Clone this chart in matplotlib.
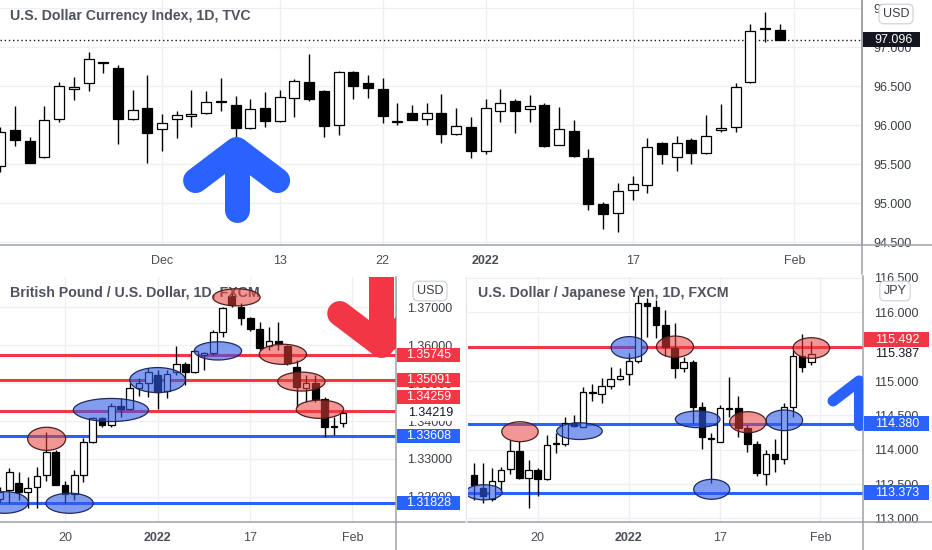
import matplotlib

matplotlib.use("Agg")
import matplotlib.pyplot as plt
from matplotlib.colors import to_rgba
from matplotlib.lines import Line2D
from matplotlib.patches import Ellipse, Rectangle
from matplotlib.transforms import blended_transform_factory

plt.rcParams["font.family"] = ["Liberation Sans", "DejaVu Sans"]

# ---------------- U.S. Dollar Currency Index, 1D (bar 0 = Dec 1) ----------------
dxy_start = -11
dxy_open = [95.474, 95.936, 95.795, 95.585, 96.073, 96.457, 96.534, 96.808, 96.726, 96.077,
            96.222, 95.944, 96.077, 96.120, 96.150, 96.298, 96.252, 95.957, 96.214, 96.047,
            96.350, 96.551, 96.440, 96.004, 96.675, 96.534, 96.466, 96.034, 96.150, 96.073,
            96.150, 95.885, 95.979, 95.667, 96.184, 96.308, 96.201, 96.256, 95.744, 95.927,
            95.573, 94.987, 94.868, 95.167, 95.226, 95.765, 95.585, 95.808, 95.637, 95.936,
            95.970, 96.547, 97.244, 97.218]
dxy_high = [95.980, 96.244, 95.846, 96.244, 96.547, 96.611, 96.940, 96.810, 96.769, 96.449,
            96.641, 96.137, 96.179, 96.449, 96.436, 96.598, 96.376, 96.333, 96.427, 96.449,
            96.585, 96.910, 96.449, 96.692, 96.692, 96.637, 96.598, 96.278, 96.256, 96.278,
            96.393, 96.222, 96.107, 96.329, 96.457, 96.329, 96.385, 96.286, 96.226, 96.064,
            95.688, 95.017, 95.261, 95.346, 95.829, 95.786, 95.859, 95.838, 96.128, 96.269,
            96.543, 97.291, 97.444, 97.295]
dxy_low = [95.400, 95.731, 95.510, 95.580, 96.043, 96.321, 96.440, 96.662, 95.752, 96.070,
           95.517, 95.671, 95.838, 95.970, 96.137, 96.179, 95.850, 95.955, 95.979, 96.045,
           96.098, 96.303, 95.850, 95.876, 96.338, 96.350, 96.030, 96.000, 96.060, 96.004,
           95.773, 95.870, 95.573, 95.628, 96.043, 95.893, 96.043, 95.722, 95.740, 95.594,
           94.910, 94.662, 94.632, 95.038, 95.132, 95.500, 95.415, 95.500, 95.635, 95.906,
           95.915, 96.545, 97.068, 97.096]
dxy_close = [95.915, 95.808, 95.517, 96.064, 96.500, 96.483, 96.842, 96.795, 96.073, 96.192,
             95.893, 96.030, 96.132, 96.145, 96.290, 96.305, 95.957, 96.201, 96.047, 96.363,
             96.564, 96.329, 95.991, 96.675, 96.504, 96.479, 96.120, 96.056, 96.064, 96.150,
             95.885, 95.991, 95.671, 96.222, 96.278, 96.184, 96.244, 95.735, 95.944, 95.603,
             94.987, 94.859, 95.158, 95.244, 95.722, 95.624, 95.765, 95.637, 95.863, 95.962,
             96.483, 97.205, 97.226, 97.096]
dxy_last = 97.096
dxy_ticks = [0, 8, 15, 22, 32, 43]
dxy_tick_labels = ["Dec", "13", "22", "2022", "17", "Feb"]
dxy_levels = [94.5, 95.0, 95.5, 96.0, 96.5, 97.0, 97.5]

# ---------------- British Pound / U.S. Dollar, 1D (bar 0 = Dec 20) ----------------
gbp_start = -7
gbp_open = [1.31950, 1.32180, 1.32374, 1.32119, 1.32251, 1.32576, 1.33192, 1.32312, 1.32075,
            1.32576, 1.33456, 1.34071, 1.33895, 1.34397, 1.34309, 1.34863, 1.34995, 1.35215,
            1.34801, 1.35303, 1.35505, 1.35303, 1.35742, 1.35786, 1.36358, 1.37299, 1.37018,
            1.36710, 1.36420, 1.35989, 1.36112, 1.35980, 1.35417, 1.34863, 1.34995, 1.34581,
            1.33878, 1.33939]
gbp_high = [1.32250, 1.32752, 1.32664, 1.32532, 1.32796, 1.33719, 1.33236, 1.32427, 1.32708,
            1.33544, 1.34115, 1.34115, 1.34467, 1.34599, 1.34995, 1.35127, 1.35390, 1.35347,
            1.35347, 1.35980, 1.35566, 1.35874, 1.35830, 1.36402, 1.37018, 1.37413, 1.37106,
            1.36754, 1.36622, 1.36472, 1.36622, 1.36006, 1.35610, 1.35215, 1.35215, 1.34643,
            1.34115, 1.34247]
gbp_low = [1.31850, 1.31829, 1.31916, 1.31697, 1.31697, 1.32427, 1.32310, 1.31829, 1.31916,
           1.32400, 1.33412, 1.33851, 1.33851, 1.34115, 1.34291, 1.34661, 1.34643, 1.34309,
           1.34599, 1.35215, 1.34951, 1.35259, 1.35347, 1.35742, 1.36226, 1.37018, 1.36534,
           1.36376, 1.35874, 1.35874, 1.35874, 1.35478, 1.34379, 1.34511, 1.34511, 1.33588,
           1.33631, 1.33851]
gbp_close = [1.32120, 1.32664, 1.32136, 1.32224, 1.32550, 1.33192, 1.32312, 1.32075, 1.32576,
             1.33456, 1.34071, 1.33895, 1.34397, 1.34309, 1.34863, 1.34995, 1.35303, 1.34775,
             1.35241, 1.35505, 1.35303, 1.35848, 1.35804, 1.36358, 1.36974, 1.37062, 1.36710,
             1.36420, 1.35918, 1.36112, 1.36033, 1.35522, 1.34889, 1.34995, 1.34581, 1.33834,
             1.33851, 1.34219]
gbp_last = 1.34219
gbp_red_levels = [1.35745, 1.35091, 1.34259]
gbp_blue_levels = [1.33608, 1.31828]
gbp_ticks = [0, 10, 20, 31]
gbp_tick_labels = ["20", "2022", "17", "Feb"]
gbp_levels = [1.32, 1.33, 1.34, 1.35, 1.36, 1.37]
# zones: (bar, price, width in bars, height in price)
gbp_blue_zones = [(-6.5, 1.3185, 5.1, 0.0057), (0.5, 1.3183, 5.1, 0.0053),
                  (4.96, 1.3429, 8.1, 0.0061), (9.99, 1.3508, 6.0, 0.0066),
                  (16.5, 1.3585, 5.1, 0.0048)]
gbp_red_zones = [(-1.97, 1.3353, 4.1, 0.0061), (18.5, 1.37264, 5.1, 0.0045),
                 (23.5, 1.3576, 5.1, 0.0053), (25.5, 1.3504, 5.1, 0.0050),
                 (27.5, 1.3431, 5.1, 0.0048)]

# ---------------- U.S. Dollar / Japanese Yen, 1D (bar 0 = Dec 20) ----------------
jpy_start = -7
jpy_open = [113.632, 113.448, 113.278, 113.545, 113.715, 113.986, 113.584, 113.705, 113.569,
            114.079, 114.083, 114.384, 114.336, 114.845, 114.811, 114.933, 115.025, 115.098,
            115.296, 116.131, 116.073, 115.816, 115.476, 115.185, 115.282, 114.627, 114.176,
            114.117, 114.598, 114.603, 114.311, 114.083, 113.647, 113.933, 113.860, 114.627,
            115.364, 115.282]
jpy_high = [113.812, 113.802, 113.729, 113.754, 114.142, 114.132, 113.851, 113.729, 114.214,
            114.239, 114.481, 114.506, 114.918, 114.952, 115.039, 115.209, 115.185, 115.403,
            116.252, 116.204, 116.180, 116.034, 115.840, 115.355, 115.306, 114.700, 114.248,
            114.651, 115.054, 114.782, 114.360, 114.132, 113.996, 114.151, 114.685, 115.452,
            115.685, 115.588]
jpy_low = [113.268, 113.229, 113.259, 113.414, 113.647, 113.569, 113.147, 113.331, 113.559,
           113.957, 114.059, 114.336, 114.335, 114.714, 114.675, 114.879, 115.015, 114.942,
           115.258, 115.646, 115.622, 115.364, 115.039, 115.136, 114.384, 114.006, 113.511,
           114.115, 114.481, 114.190, 113.972, 113.623, 113.487, 113.681, 113.792, 114.481,
           115.127, 115.233]
jpy_close = [113.487, 113.327, 113.545, 113.705, 113.986, 113.584, 113.705, 113.574, 114.069,
             114.093, 114.384, 114.345, 114.845, 114.821, 114.928, 115.025, 115.078, 115.296,
             116.131, 116.092, 115.816, 115.500, 115.185, 115.282, 114.627, 114.190, 114.156,
             114.603, 114.612, 114.311, 114.083, 113.657, 113.933, 113.860, 114.627, 115.364,
             115.199, 115.387]
jpy_last = 115.387
jpy_red_levels = [115.492]
jpy_blue_levels = [114.380, 113.373]
jpy_ticks = [0, 10, 20, 31]
jpy_tick_labels = ["20", "2022", "17", "Feb"]
jpy_levels = [113.0, 113.5, 114.0, 114.5, 115.0, 115.5, 116.0, 116.5]
jpy_blue_zones = [(-5.9, 113.38, 4.0, 0.22), (4.58, 114.27, 5.0, 0.243),
                  (10.04, 115.488, 4.0, 0.316), (17.54, 114.443, 4.9, 0.243),
                  (19.08, 113.424, 3.95, 0.29), (27.04, 114.428, 4.0, 0.30)]
jpy_red_zones = [(-1.94, 114.262, 4.0, 0.29), (15.05, 115.499, 4.06, 0.31),
                 (23.04, 114.40, 4.0, 0.306), (30.0, 115.48, 4.0, 0.30)]

RED = "#f23645"
BLUE = "#2962ff"
AXIS = "#9da0a8"
GRID = "#eceff4"
TXT = "#4a4d56"

W, H = 932, 550
fig = plt.figure(figsize=(W / 100, H / 100), dpi=100)


def px_rect(x0, y0, x1, y1):
    return [x0 / W, 1 - y1 / H, (x1 - x0) / W, (y1 - y0) / H]


def fig_line(x0, y0, x1, y1, **kw):
    fig.add_artist(Line2D([x0 / W, x1 / W], [1 - y0 / H, 1 - y1 / H],
                          transform=fig.transFigure, **kw))


def setup(ax, xlim, ylim, yticks, fmt, xticks, xlabels):
    ax.set_xlim(xlim)
    ax.set_ylim(ylim)
    ax.yaxis.tick_right()
    ax.set_yticks(yticks)
    ax.set_yticklabels([fmt % v for v in yticks])
    ax.set_xticks(xticks)
    ax.set_xticklabels(xlabels)
    for lab in ax.get_xticklabels():
        if lab.get_text() == "2022":
            lab.set_fontweight("bold")
    ax.tick_params(length=0, labelsize=9, labelcolor=TXT)
    ax.tick_params(axis="y", pad=8, labelcolor="#3b3e46")
    ax.tick_params(axis="x", pad=7)
    ax.grid(True, color=GRID, lw=0.9)
    ax.set_axisbelow(True)
    for s in ("top", "left"):
        ax.spines[s].set_visible(False)
    for s in ("right", "bottom"):
        ax.spines[s].set_color(AXIS)
        ax.spines[s].set_linewidth(1.1)


def draw_candles(ax, start, opens, highs, lows, closes, body=0.68):
    for k, (o, h, l, c) in enumerate(zip(opens, highs, lows, closes)):
        x = start + k
        ax.plot([x, x], [l, h], color="black", lw=1.0, zorder=3, solid_capstyle="butt")
        lo, hi = min(o, c), max(o, c)
        ax.add_patch(Rectangle((x - body / 2, lo), body, hi - lo,
                               facecolor="white" if c >= o else "black",
                               edgecolor="black", lw=0.9, zorder=4))


def draw_zones(ax, zones, face, edge):
    for x, y, w, h in zones:
        ax.add_patch(Ellipse((x, y), w, h, facecolor=face, edgecolor=edge, lw=0.9, zorder=5))


def arrow(ax, wing_x, tip, wing_y, tail_y, color, lw):
    x0, x1, x2 = wing_x
    ax.plot([x0, x1, x2], [wing_y, tip, wing_y], color=color, lw=lw,
            solid_capstyle="round", solid_joinstyle="round", zorder=6)
    ax.plot([x1, x1], [tip, tail_y], color=color, lw=lw,
            solid_capstyle="round", zorder=6)


def price_tag(ax, y, text, face, fg="white", w_px=64, h_px=15, text_px=33):
    tr = blended_transform_factory(ax.transAxes, ax.transData)
    y0, y1 = ax.get_ylim()
    h = h_px * (y1 - y0) / ax.bbox.height
    if face is not None:
        ax.add_patch(Rectangle((1 + 1 / ax.bbox.width, y - h / 2), w_px / ax.bbox.width, h,
                               transform=tr, facecolor=face, edgecolor="none",
                               clip_on=False, zorder=7))
        ax.text(1 + text_px / ax.bbox.width, y, text, transform=tr, ha="center",
                va="center", color=fg, fontsize=9, zorder=8, clip_on=False)
    else:
        ax.text(1 + text_px / ax.bbox.width, y, text, transform=tr, ha="center",
                va="center", color=fg, fontsize=9, zorder=8, clip_on=False,
                bbox=dict(boxstyle="square,pad=0.15", facecolor="white", edgecolor="none"))


def currency_box(x, y, text):
    fig.text(x / W, 1 - y / H, text, ha="center", va="center", fontsize=9, color="#3b3e46",
             zorder=10, bbox=dict(boxstyle="round,pad=0.3,rounding_size=0.4",
                                  facecolor="white", edgecolor="#d1d4dc", lw=0.9))


def title(ax, text):
    ax.text(10 / ax.bbox.width, 1 - 16 / ax.bbox.height, text, transform=ax.transAxes,
            ha="left", va="center", fontsize=10.2, fontweight="bold", color="#50535e",
            zorder=4.5)


# ---------------- top: DXY ----------------
ax_top = fig.add_axes(px_rect(0, 0, 862.3, 245))
setup(ax_top, (-11.02, 47.62), (94.462, 97.603), dxy_levels, "%.3f", dxy_ticks, dxy_tick_labels)
draw_candles(ax_top, dxy_start, dxy_open, dxy_high, dxy_low, dxy_close)
ax_top.axhline(dxy_last, color="#131722", lw=1.0, dashes=(1, 2), zorder=2)
arrow(ax_top, (2.28, 5.07, 7.86), 95.686, 95.288, 94.917, BLUE, 18)
title(ax_top, "U.S. Dollar Currency Index, 1D, TVC")
price_tag(ax_top, dxy_last, "%.3f" % dxy_last, "#131722", w_px=57, h_px=15, text_px=31)

# ---------------- bottom left: GBPUSD ----------------
ax_gbp = fig.add_axes(px_rect(0, 276.5, 395.7, 522))
setup(ax_gbp, (-7.0, 35.67), (1.31335, 1.37813), gbp_levels, "%.5f", gbp_ticks, gbp_tick_labels)
for v in gbp_red_levels:
    ax_gbp.axhline(v, color=RED, lw=2.2, zorder=2)
for v in gbp_blue_levels:
    ax_gbp.axhline(v, color=BLUE, lw=2.2, zorder=2)
draw_candles(ax_gbp, gbp_start, gbp_open, gbp_high, gbp_low, gbp_close, body=0.72)
title(ax_gbp, "British Pound / U.S. Dollar, 1D, FXCM")
draw_zones(ax_gbp, gbp_blue_zones, to_rgba("#2f5ce6", 0.6), "#1f2a5c")
draw_zones(ax_gbp, gbp_red_zones, to_rgba("#e8413c", 0.55), "#4d1f1f")
arrow(ax_gbp, (29.63, 34.05, 38.47), 1.36018, 1.36836, 1.392, RED, 18)
gbp_tag_y = [1.35745, 1.35091, 1.34641]
for v, ty in zip(gbp_red_levels, gbp_tag_y):
    price_tag(ax_gbp, ty, "%.5f" % v, RED, w_px=63, h_px=14, text_px=33)
for v in gbp_blue_levels:
    price_tag(ax_gbp, v, "%.5f" % v, BLUE, w_px=63, h_px=14, text_px=33)
price_tag(ax_gbp, gbp_last, "%.5f" % gbp_last, None, fg="#131722", text_px=35)

# ---------------- bottom right: USDJPY ----------------
ax_jpy = fig.add_axes(px_rect(468, 276.5, 862.5, 522))
setup(ax_jpy, (-7.64, 35.61), (112.948, 116.521), jpy_levels, "%.3f", jpy_ticks, jpy_tick_labels)
for v in jpy_red_levels:
    ax_jpy.axhline(v, color=RED, lw=2.2, zorder=2)
for v in jpy_blue_levels:
    ax_jpy.axhline(v, color=BLUE, lw=2.2, zorder=2)
draw_candles(ax_jpy, jpy_start, jpy_open, jpy_high, jpy_low, jpy_close, body=0.7)
title(ax_jpy, "U.S. Dollar / Japanese Yen, 1D, FXCM")
draw_zones(ax_jpy, jpy_blue_zones, to_rgba("#2f5ce6", 0.6), "#1f2a5c")
draw_zones(ax_jpy, jpy_red_zones, to_rgba("#e8413c", 0.55), "#4d1f1f")
arrow(ax_jpy, (32.38, 35.23, 38.09), 115.0, 114.71, 114.36, BLUE, 8)
price_tag(ax_jpy, 115.604, "%.3f" % jpy_red_levels[0], RED, w_px=65, h_px=15, text_px=35)
for v in jpy_blue_levels:
    price_tag(ax_jpy, v, "%.3f" % v, BLUE, w_px=65, h_px=15, text_px=35)
price_tag(ax_jpy, jpy_last, "%.3f" % jpy_last, None, fg="#131722", text_px=35)

# frame pieces outside the axes
kw = dict(color=AXIS, lw=1.1)
fig_line(862.3, 0, 862.3, 274, **kw)
fig_line(862.3, 245, 932, 245, **kw)
fig_line(395.7, 522, 395.7, 550, **kw)
fig_line(395.7, 522, 465, 522, **kw)
fig_line(862.5, 522, 862.5, 550, **kw)
fig_line(862.5, 522, 932, 522, **kw)
fig_line(466, 276.5, 466, 522, color="#e3e6ec", lw=0.8)

currency_box(896, 14, "USD")
currency_box(430, 291, "USD")
currency_box(895, 291, "JPY")

fig.savefig("out.png", dpi=100, facecolor="white")
